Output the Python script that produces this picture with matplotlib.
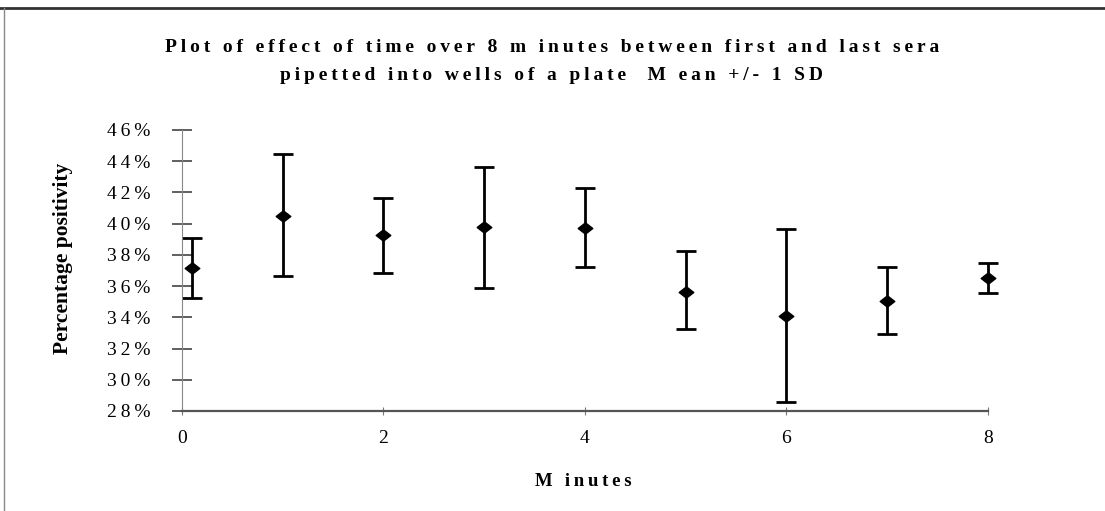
import matplotlib.pyplot as plt
from matplotlib.lines import Line2D
from matplotlib.path import Path
import numpy as np

# minutes after first serum pipetted, mean and +/- 1 SD of percentage positivity
minutes = [0.1, 1, 2, 3, 4, 5, 6, 7, 8]
mean_pos = [37.15, 40.5, 39.28, 39.78, 39.75, 35.65, 34.09, 35.05, 36.5]
upper = [39.1, 44.45, 41.67, 43.66, 42.3, 38.24, 39.67, 37.23, 37.49]
lower = [35.26, 36.65, 36.85, 35.86, 37.25, 33.24, 28.58, 32.94, 35.58]

y_ticks = [28, 30, 32, 34, 36, 38, 40, 42, 44, 46]
x_ticks = [0, 2, 4, 6, 8]

title_1 = "Plot of effect of time over 8 m inutes between first and last sera"
title_2 = "pipetted into wells of a plate  M ean +/- 1 SD"

SERIF = ['Liberation Serif', 'DejaVu Serif']


def spaced(s):
    # wide letter tracking like the old spreadsheet output
    return '\u2009'.join(s)


mean_pos = np.array(mean_pos) / 100
upper = np.array(upper) / 100
lower = np.array(lower) / 100
yerr = [mean_pos - lower, upper - mean_pos]

fig = plt.figure(figsize=(11.05, 5.11), dpi=100)
ax = fig.add_axes([0.1647, 0.1957, 0.894 - 0.1647, 0.7456 - 0.1957])

diamond = Path([(-1, 0), (0, 0.78), (1, 0), (0, -0.78), (-1, 0)],
               [Path.MOVETO, Path.LINETO, Path.LINETO, Path.LINETO, Path.CLOSEPOLY])

eb = ax.errorbar(minutes, mean_pos, yerr=yerr, fmt='none', ecolor='black',
                 elinewidth=2, capsize=7.5, capthick=2)
for art in eb.lines[1] + eb.lines[2]:
    art.set_clip_on(False)
ax.plot(minutes, mean_pos, linestyle='none', marker=diamond, markersize=10.5,
        color='black', clip_on=False, zorder=3)

ax.set_xlim(0, 8)
ax.set_ylim(0.28, 0.46)
ax.set_xticks(x_ticks)
ax.set_xticklabels([str(t) for t in x_ticks], fontfamily=SERIF, fontsize=14)
ax.set_yticks([t / 100 for t in y_ticks])
ax.set_yticklabels([spaced(f"{t}%") for t in y_ticks], fontfamily=SERIF,
                   fontsize=14)

ax.tick_params(axis='y', direction='inout', length=14, width=1.2,
               color='#444444', pad=16)
ax.tick_params(axis='x', direction='inout', length=6, width=0.8,
               color='#777777', pad=11)

for side in ['top', 'right']:
    ax.spines[side].set_visible(False)
ax.spines['left'].set_color('#888888')
ax.spines['left'].set_linewidth(0.8)
ax.spines['bottom'].set_color('#555555')
ax.spines['bottom'].set_linewidth(1.6)

fig.text(63 / 1105, 1 - 258 / 511, "Percentage positivity", fontfamily=SERIF,
         fontsize=15.5, fontweight='bold', rotation=90,
         ha='center', va='center')
fig.text(583 / 1105, 1 - 482 / 511, spaced("M inutes"),
         fontfamily=SERIF, fontsize=13.5, fontweight='bold',
         ha='center', va='center')

fig.text(552 / 1105, 1 - 47 / 511, spaced(title_1), fontfamily=SERIF,
         fontsize=14, fontweight='bold', ha='center', va='center')
fig.text(552 / 1105, 1 - 75 / 511, spaced(title_2), fontfamily=SERIF,
         fontsize=14, fontweight='bold', ha='center', va='center')

# frame of the chart area
fig.add_artist(Line2D([0, 1], [1 - 8 / 511, 1 - 8 / 511], color='#333333',
                      linewidth=2, transform=fig.transFigure))
fig.add_artist(Line2D([4 / 1105, 4 / 1105], [0, 1 - 8 / 511], color='#888888',
                      linewidth=1, transform=fig.transFigure))

fig.savefig("out.png", dpi=100)
